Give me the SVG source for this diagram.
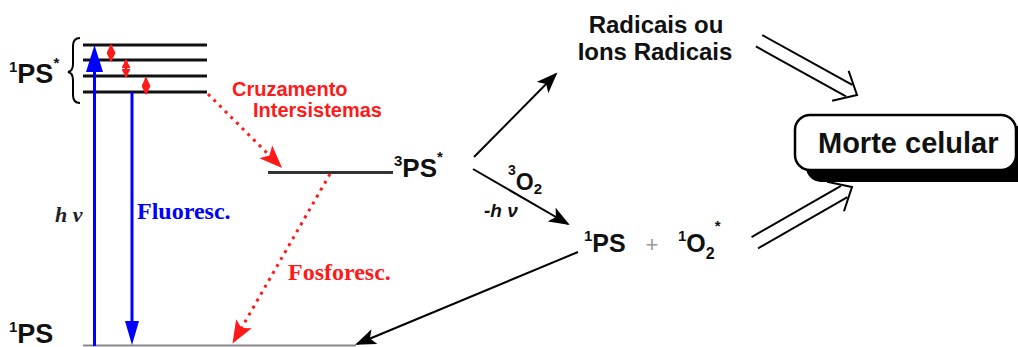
<svg xmlns="http://www.w3.org/2000/svg" width="1018" height="347" viewBox="0 0 1018 347">
<defs>
<style>
.sans{font-family:"Liberation Sans",Arial,sans-serif;font-weight:bold;fill:#111}
.serif{font-family:"Liberation Serif","Times New Roman",serif;font-weight:bold}
.lvl{stroke:#111;stroke-width:3}
.blk{stroke:#000;stroke-width:2;fill:none}
.reddot{stroke:#ff1a1a;stroke-width:3;stroke-dasharray:3 5;fill:none}
.blue{stroke:#0000ff;stroke-width:3}
.dbl{stroke:#000;stroke-width:2;fill:none}
.vib{stroke:#ff1a1a;stroke-width:2.5}
</style>
<marker id="ahK" markerUnits="userSpaceOnUse" viewBox="0 0 22 16" markerWidth="22" markerHeight="16" refX="19" refY="8" orient="auto"><path d="M0,0 L21,8 L0,16 L5,8 Z" fill="#000"/></marker>
<marker id="ahR" markerUnits="userSpaceOnUse" viewBox="0 0 24 18" markerWidth="24" markerHeight="18" refX="20" refY="9" orient="auto"><path d="M0,0 L23,9 L0,18 L5,9 Z" fill="#ff1a1a"/></marker>
<marker id="ahr" markerUnits="userSpaceOnUse" viewBox="0 0 9 9" markerWidth="9" markerHeight="9" refX="8" refY="4.5" orient="auto-start-reverse"><path d="M0,0 L9,4.5 L0,9 Z" fill="#ff1a1a"/></marker>
</defs>

<g id="levels-singlet">
<line class="lvl" x1="83" y1="45" x2="207" y2="45"/>
<line class="lvl" x1="83" y1="60" x2="207" y2="60"/>
<line class="lvl" x1="83" y1="76" x2="207" y2="76"/>
<line class="lvl" x1="83" y1="92" x2="207" y2="92"/>
<path d="M80,38 Q73,38 73,46 L73,64 Q73,71 68,72 Q73,73 73,80 L73,95 Q73,103 80,103" class="blk"/>
<text class="sans" x="9" y="83"><tspan font-size="15" dy="-11">1</tspan><tspan font-size="27" dy="11">PS</tspan><tspan font-size="15" dy="-15">*</tspan></text>
</g>

<g id="level-ground">
<line x1="83" y1="345.5" x2="356" y2="345.5" stroke="#888" stroke-width="2"/>
<text class="sans" x="9" y="343"><tspan font-size="15" dy="-11">1</tspan><tspan font-size="27" dy="11">PS</tspan></text>
</g>

<g id="level-triplet">
<line x1="268" y1="172.5" x2="393" y2="172.5" stroke="#333" stroke-width="3"/>
<text class="sans" x="394" y="177"><tspan font-size="15" dy="-11">3</tspan><tspan font-size="26" dy="11">PS</tspan><tspan font-size="15" dy="-15">*</tspan></text>
</g>

<g id="radicais">
<text class="sans" font-size="24" text-anchor="middle" x="656" y="33">Radicais ou</text>
<text class="sans" font-size="24" text-anchor="middle" x="655" y="60">Ions Radicais</text>
</g>

<g id="products">
<text class="sans" x="584" y="252"><tspan font-size="15" dy="-11">1</tspan><tspan font-size="25" dy="11">PS</tspan></text>
<text x="652" y="252" font-family="Liberation Sans,Arial,sans-serif" font-size="22" fill="#999" text-anchor="middle">+</text>
<text class="sans" x="678" y="252"><tspan font-size="15" dy="-11">1</tspan><tspan font-size="25" dy="11">O</tspan><tspan font-size="16" dy="7">2</tspan><tspan font-size="15" dy="-28">*</tspan></text>
</g>

<g id="morte">
<rect x="806" y="126" width="230" height="56" rx="15" fill="#000"/>
<rect x="795" y="115" width="221" height="55" rx="15" fill="#fff" stroke="#000" stroke-width="2.5"/>
<text class="sans" font-size="29" x="818" y="153">Morte celular</text>
</g>

<g id="connectors">
<line class="blue" x1="94.5" y1="346" x2="94.5" y2="66"/>
<polygon points="94.5,45 86,72 103,72" fill="#0000ff"/>
<line class="blue" x1="132" y1="92" x2="132" y2="326"/>
<polygon points="132,345 125,321 139,321" fill="#0000ff"/>
<line class="vib" x1="111" y1="45" x2="111" y2="61" marker-start="url(#ahr)" marker-end="url(#ahr)"/>
<line class="vib" x1="126" y1="60" x2="126" y2="77" marker-start="url(#ahr)" marker-end="url(#ahr)"/>
<line class="vib" x1="146" y1="78" x2="146" y2="94" marker-start="url(#ahr)" marker-end="url(#ahr)"/>
<line class="reddot" x1="208" y1="94" x2="280" y2="166" marker-end="url(#ahR)"/>
<line class="reddot" x1="330" y1="174" x2="234" y2="341" marker-end="url(#ahR)"/>
<line class="blk" x1="474" y1="157" x2="556" y2="74" marker-end="url(#ahK)"/>
<line class="blk" x1="473" y1="169" x2="568" y2="224" marker-end="url(#ahK)"/>
<line class="blk" x1="578" y1="252" x2="357" y2="344" marker-end="url(#ahK)"/>
<g transform="translate(857,95) rotate(29)">
<line class="dbl" x1="-112" y1="-6.5" x2="-9" y2="-6.5"/>
<line class="dbl" x1="-112" y1="6.5" x2="-9" y2="6.5"/>
<path class="dbl" d="M-19,-17 L0,0 L-19,17"/>
</g>
<g transform="translate(852,187) rotate(-29.8)">
<line class="dbl" x1="-112" y1="-6.5" x2="-9" y2="-6.5"/>
<line class="dbl" x1="-112" y1="6.5" x2="-9" y2="6.5"/>
<path class="dbl" d="M-19,-17 L0,0 L-19,17"/>
</g>
</g>

<g id="labels">
<text class="serif" font-style="italic" font-size="22" fill="#222" x="55" y="222">h ν</text>
<text class="serif" font-size="24" fill="#0000ff" x="137" y="219">Fluoresc.</text>
<text class="serif" font-size="24" fill="#ff1a1a" x="288" y="280">Fosforesc.</text>
<text class="sans" font-size="20" style="fill:#ff1a1a" x="232" y="96">Cruzamento</text>
<text class="sans" font-size="20" style="fill:#ff1a1a" x="253" y="117">Intersistemas</text>
<text class="sans" x="508" y="190"><tspan font-size="14" dy="-15">3</tspan><tspan font-size="23" dy="15">O</tspan><tspan font-size="15" dy="4">2</tspan></text>
<text font-family="Liberation Sans,Arial,sans-serif" font-style="italic" font-weight="bold" font-size="19" fill="#111" x="484" y="217">-h ν</text>
</g>
</svg>
